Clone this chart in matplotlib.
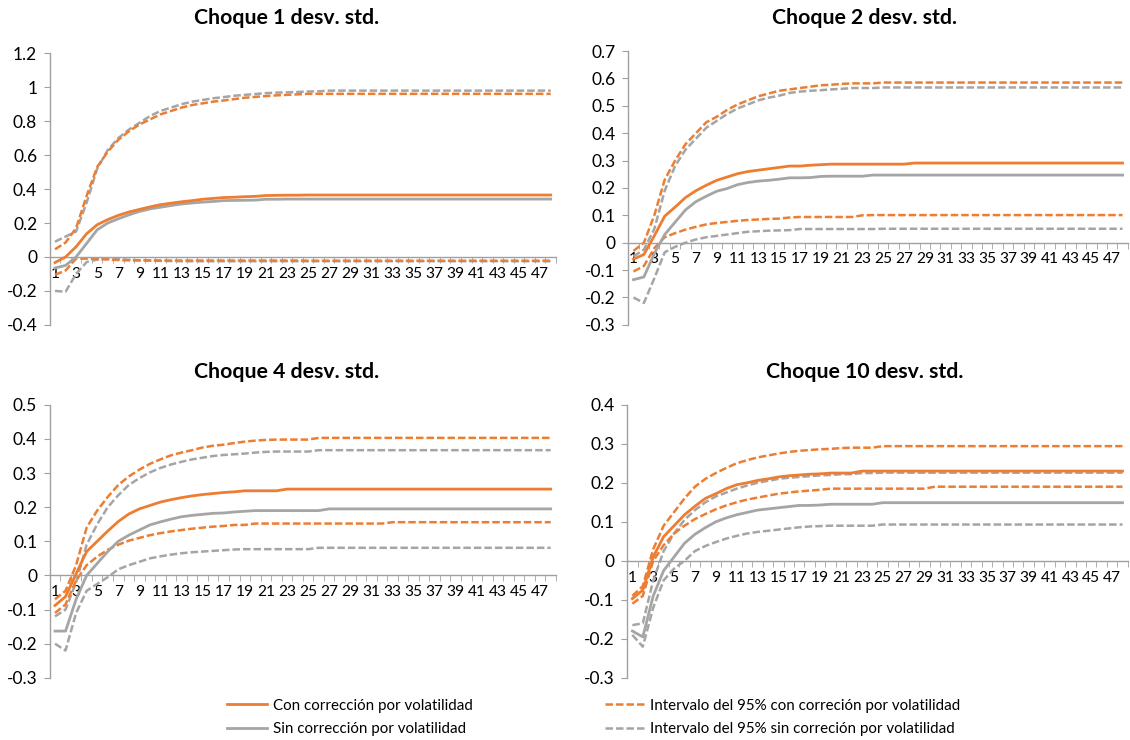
import matplotlib
matplotlib.use("Agg")
import matplotlib.pyplot as plt
from matplotlib.ticker import FuncFormatter, MultipleLocator
from matplotlib.lines import Line2D

plt.rcParams["font.family"] = ["Lato", "DejaVu Sans"]

ORANGE = "#ED7D31"
GRAY = "#A5A5A5"
AXIS = "#A0A0A0"

periods = list(range(1, 49))
titles = ["Choque 1 desv. std.", "Choque 2 desv. std.",
          "Choque 4 desv. std.", "Choque 10 desv. std."]
labels = ["Con corrección por volatilidad",
          "Sin corrección por volatilidad",
          "Intervalo del 95% con correción por volatilidad",
          "Intervalo del 95% sin correción por volatilidad"]

# ---- Choque 1 ----
con_1 = [-0.033, 0.000, 0.060, 0.137, 0.190, 0.220, 0.245, 0.265, 0.280, 0.295, 0.308, 0.317,
         0.325, 0.332, 0.340, 0.345, 0.350, 0.352, 0.355, 0.357, 0.362, 0.363, 0.364, 0.364,
         0.365, 0.365, 0.365, 0.365, 0.365, 0.365, 0.365, 0.365, 0.365, 0.365, 0.365, 0.365,
         0.365, 0.365, 0.365, 0.365, 0.365, 0.365, 0.365, 0.365, 0.365, 0.365, 0.365, 0.365]
sin_1 = [-0.065, -0.050, 0.000, 0.080, 0.160, 0.200, 0.225, 0.248, 0.268, 0.283, 0.293, 0.303,
         0.312, 0.318, 0.323, 0.327, 0.332, 0.333, 0.334, 0.335, 0.340, 0.340, 0.341, 0.341,
         0.341, 0.341, 0.341, 0.341, 0.341, 0.341, 0.341, 0.341, 0.341, 0.341, 0.341, 0.341,
         0.341, 0.341, 0.341, 0.341, 0.341, 0.341, 0.341, 0.341, 0.341, 0.341, 0.341, 0.341]
hi_con_1 = [0.045, 0.085, 0.170, 0.360, 0.530, 0.620, 0.690, 0.740, 0.780, 0.810, 0.840, 0.860,
            0.880, 0.895, 0.905, 0.915, 0.922, 0.930, 0.938, 0.943, 0.948, 0.952, 0.955, 0.958,
            0.961, 0.961, 0.961, 0.961, 0.961, 0.961, 0.961, 0.961, 0.961, 0.961, 0.961, 0.961,
            0.961, 0.961, 0.961, 0.961, 0.961, 0.961, 0.961, 0.961, 0.961, 0.961, 0.961, 0.961]
lo_con_1 = [-0.105, -0.080, -0.010, -0.010, -0.012, -0.015, -0.018, -0.020, -0.020, -0.020, -0.021, -0.021,
            -0.021, -0.021, -0.021, -0.021, -0.021, -0.021, -0.021, -0.021, -0.021, -0.021, -0.021, -0.021,
            -0.022, -0.022, -0.022, -0.022, -0.022, -0.022, -0.022, -0.022, -0.022, -0.022, -0.022, -0.022,
            -0.022, -0.022, -0.022, -0.022, -0.022, -0.022, -0.022, -0.022, -0.022, -0.022, -0.022, -0.022]
hi_sin_1 = [0.090, 0.120, 0.150, 0.320, 0.520, 0.630, 0.700, 0.750, 0.790, 0.830, 0.860, 0.880,
            0.900, 0.915, 0.925, 0.935, 0.942, 0.950, 0.955, 0.960, 0.965, 0.968, 0.970, 0.972,
            0.975, 0.976, 0.980, 0.980, 0.980, 0.980, 0.980, 0.980, 0.980, 0.980, 0.980, 0.980,
            0.980, 0.980, 0.980, 0.980, 0.980, 0.980, 0.980, 0.980, 0.980, 0.980, 0.980, 0.980]
lo_sin_1 = [-0.200, -0.205, -0.100, -0.030, -0.015, -0.010, -0.013, -0.017, -0.020, -0.022, -0.023, -0.024,
            -0.025, -0.025, -0.025, -0.025, -0.025, -0.025, -0.025, -0.025, -0.025, -0.025, -0.025, -0.025,
            -0.025, -0.025, -0.025, -0.025, -0.025, -0.025, -0.025, -0.025, -0.025, -0.025, -0.025, -0.025,
            -0.025, -0.025, -0.025, -0.025, -0.025, -0.025, -0.025, -0.025, -0.025, -0.025, -0.025, -0.025]

# ---- Choque 2 ----
con_2 = [-0.060, -0.043, 0.025, 0.097, 0.130, 0.165, 0.190, 0.210, 0.228, 0.240, 0.252, 0.260,
         0.265, 0.270, 0.275, 0.280, 0.280, 0.283, 0.285, 0.287, 0.287, 0.287, 0.287, 0.287,
         0.287, 0.287, 0.287, 0.291, 0.291, 0.291, 0.291, 0.291, 0.291, 0.291, 0.291, 0.291,
         0.291, 0.291, 0.291, 0.291, 0.291, 0.291, 0.291, 0.291, 0.291, 0.291, 0.291, 0.291]
sin_2 = [-0.135, -0.125, -0.040, 0.030, 0.075, 0.120, 0.150, 0.170, 0.188, 0.198, 0.212, 0.220,
         0.225, 0.228, 0.232, 0.237, 0.237, 0.238, 0.242, 0.243, 0.243, 0.243, 0.243, 0.247,
         0.247, 0.247, 0.247, 0.247, 0.247, 0.247, 0.247, 0.247, 0.247, 0.247, 0.247, 0.247,
         0.247, 0.247, 0.247, 0.247, 0.247, 0.247, 0.247, 0.247, 0.247, 0.247, 0.247, 0.247]
hi_con_2 = [-0.030, 0.000, 0.100, 0.230, 0.300, 0.360, 0.400, 0.440, 0.460, 0.485, 0.505, 0.520,
            0.535, 0.545, 0.555, 0.560, 0.565, 0.570, 0.575, 0.577, 0.580, 0.582, 0.582, 0.582,
            0.585, 0.585, 0.585, 0.585, 0.585, 0.585, 0.585, 0.585, 0.585, 0.585, 0.585, 0.585,
            0.585, 0.585, 0.585, 0.585, 0.585, 0.585, 0.585, 0.585, 0.585, 0.585, 0.585, 0.585]
lo_con_2 = [-0.105, -0.085, -0.020, 0.020, 0.035, 0.048, 0.058, 0.067, 0.072, 0.076, 0.080, 0.083,
            0.085, 0.087, 0.088, 0.092, 0.094, 0.094, 0.094, 0.094, 0.094, 0.094, 0.100, 0.101,
            0.101, 0.101, 0.101, 0.101, 0.101, 0.101, 0.101, 0.101, 0.101, 0.101, 0.101, 0.101,
            0.101, 0.101, 0.101, 0.101, 0.101, 0.101, 0.101, 0.101, 0.101, 0.101, 0.101, 0.101]
hi_sin_2 = [-0.050, -0.025, 0.050, 0.190, 0.280, 0.340, 0.380, 0.420, 0.445, 0.470, 0.490, 0.505,
            0.520, 0.530, 0.537, 0.547, 0.552, 0.555, 0.557, 0.560, 0.562, 0.565, 0.565, 0.565,
            0.567, 0.567, 0.567, 0.567, 0.567, 0.567, 0.567, 0.567, 0.567, 0.567, 0.567, 0.567,
            0.567, 0.567, 0.567, 0.567, 0.567, 0.567, 0.567, 0.567, 0.567, 0.567, 0.567, 0.567]
lo_sin_2 = [-0.200, -0.220, -0.130, -0.035, -0.015, 0.000, 0.012, 0.020, 0.025, 0.030, 0.035, 0.040,
            0.042, 0.044, 0.045, 0.046, 0.050, 0.050, 0.050, 0.050, 0.050, 0.050, 0.050, 0.050,
            0.051, 0.051, 0.051, 0.051, 0.051, 0.051, 0.051, 0.051, 0.051, 0.051, 0.051, 0.051,
            0.051, 0.051, 0.051, 0.051, 0.051, 0.051, 0.051, 0.051, 0.051, 0.051, 0.051, 0.051]

# ---- Choque 4 ----
con_4 = [-0.088, -0.062, 0.005, 0.070, 0.100, 0.130, 0.158, 0.180, 0.195, 0.205, 0.215, 0.222,
         0.228, 0.233, 0.237, 0.240, 0.243, 0.245, 0.248, 0.248, 0.248, 0.248, 0.253, 0.253,
         0.253, 0.253, 0.253, 0.253, 0.253, 0.253, 0.253, 0.253, 0.253, 0.253, 0.253, 0.253,
         0.253, 0.253, 0.253, 0.253, 0.253, 0.253, 0.253, 0.253, 0.253, 0.253, 0.253, 0.253]
sin_4 = [-0.163, -0.163, -0.070, 0.000, 0.035, 0.070, 0.100, 0.118, 0.133, 0.148, 0.157, 0.165,
         0.172, 0.176, 0.179, 0.182, 0.183, 0.186, 0.188, 0.190, 0.190, 0.190, 0.190, 0.190,
         0.190, 0.190, 0.195, 0.195, 0.195, 0.195, 0.195, 0.195, 0.195, 0.195, 0.195, 0.195,
         0.195, 0.195, 0.195, 0.195, 0.195, 0.195, 0.195, 0.195, 0.195, 0.195, 0.195, 0.195]
hi_con_4 = [-0.070, -0.045, 0.030, 0.140, 0.190, 0.230, 0.265, 0.290, 0.310, 0.327, 0.340, 0.352,
            0.360, 0.367, 0.375, 0.380, 0.383, 0.388, 0.392, 0.395, 0.397, 0.398, 0.398, 0.398,
            0.398, 0.403, 0.403, 0.403, 0.403, 0.403, 0.403, 0.403, 0.403, 0.403, 0.403, 0.403,
            0.403, 0.403, 0.403, 0.403, 0.403, 0.403, 0.403, 0.403, 0.403, 0.403, 0.403, 0.403]
lo_con_4 = [-0.110, -0.085, -0.015, 0.030, 0.055, 0.075, 0.090, 0.102, 0.110, 0.118, 0.124, 0.129,
            0.133, 0.137, 0.140, 0.143, 0.145, 0.148, 0.148, 0.152, 0.152, 0.152, 0.152, 0.152,
            0.152, 0.152, 0.152, 0.152, 0.152, 0.152, 0.152, 0.152, 0.156, 0.156, 0.156, 0.156,
            0.156, 0.156, 0.156, 0.156, 0.156, 0.156, 0.156, 0.156, 0.156, 0.156, 0.156, 0.156]
hi_sin_4 = [-0.120, -0.100, -0.020, 0.090, 0.150, 0.200, 0.235, 0.265, 0.285, 0.302, 0.315, 0.325,
            0.333, 0.340, 0.345, 0.350, 0.353, 0.355, 0.357, 0.360, 0.362, 0.363, 0.363, 0.363,
            0.363, 0.367, 0.367, 0.367, 0.367, 0.367, 0.367, 0.367, 0.367, 0.367, 0.367, 0.367,
            0.367, 0.367, 0.367, 0.367, 0.367, 0.367, 0.367, 0.367, 0.367, 0.367, 0.367, 0.367]
lo_sin_4 = [-0.200, -0.220, -0.110, -0.045, -0.025, -0.005, 0.018, 0.030, 0.040, 0.050, 0.056, 0.061,
            0.065, 0.068, 0.070, 0.072, 0.074, 0.076, 0.077, 0.077, 0.077, 0.077, 0.077, 0.077,
            0.077, 0.081, 0.081, 0.081, 0.081, 0.081, 0.081, 0.081, 0.081, 0.081, 0.081, 0.081,
            0.081, 0.081, 0.081, 0.081, 0.081, 0.081, 0.081, 0.081, 0.081, 0.081, 0.081, 0.081]

# ---- Choque 10 ----
con_10 = [-0.097, -0.075, 0.010, 0.062, 0.090, 0.118, 0.140, 0.160, 0.172, 0.185, 0.195, 0.200,
          0.206, 0.210, 0.215, 0.218, 0.220, 0.222, 0.223, 0.225, 0.225, 0.225, 0.230, 0.230,
          0.230, 0.230, 0.230, 0.230, 0.230, 0.230, 0.230, 0.230, 0.230, 0.230, 0.230, 0.230,
          0.230, 0.230, 0.230, 0.230, 0.230, 0.230, 0.230, 0.230, 0.230, 0.230, 0.230, 0.230]
sin_10 = [-0.180, -0.195, -0.090, -0.025, 0.010, 0.045, 0.068, 0.085, 0.100, 0.110, 0.118, 0.124,
          0.130, 0.133, 0.136, 0.139, 0.142, 0.142, 0.143, 0.145, 0.145, 0.145, 0.145, 0.145,
          0.149, 0.149, 0.149, 0.149, 0.149, 0.149, 0.149, 0.149, 0.149, 0.149, 0.149, 0.149,
          0.149, 0.149, 0.149, 0.149, 0.149, 0.149, 0.149, 0.149, 0.149, 0.149, 0.149, 0.149]
hi_con_10 = [-0.090, -0.065, 0.030, 0.090, 0.125, 0.160, 0.190, 0.210, 0.225, 0.238, 0.250, 0.258,
             0.265, 0.270, 0.275, 0.279, 0.282, 0.284, 0.286, 0.287, 0.289, 0.290, 0.290, 0.290,
             0.294, 0.294, 0.294, 0.294, 0.294, 0.294, 0.294, 0.294, 0.294, 0.294, 0.294, 0.294,
             0.294, 0.294, 0.294, 0.294, 0.294, 0.294, 0.294, 0.294, 0.294, 0.294, 0.294, 0.294]
lo_con_10 = [-0.110, -0.090, 0.000, 0.040, 0.070, 0.090, 0.107, 0.120, 0.132, 0.142, 0.150, 0.157,
             0.162, 0.167, 0.172, 0.175, 0.178, 0.180, 0.182, 0.185, 0.185, 0.185, 0.185, 0.185,
             0.185, 0.185, 0.185, 0.185, 0.185, 0.190, 0.190, 0.190, 0.190, 0.190, 0.190, 0.190,
             0.190, 0.190, 0.190, 0.190, 0.190, 0.190, 0.190, 0.190, 0.190, 0.190, 0.190, 0.190]
hi_sin_10 = [-0.165, -0.160, -0.050, 0.025, 0.070, 0.105, 0.130, 0.150, 0.165, 0.175, 0.185, 0.193,
             0.200, 0.205, 0.210, 0.213, 0.215, 0.217, 0.219, 0.220, 0.222, 0.222, 0.225, 0.225,
             0.226, 0.226, 0.226, 0.226, 0.226, 0.226, 0.226, 0.226, 0.226, 0.226, 0.226, 0.226,
             0.226, 0.226, 0.226, 0.226, 0.226, 0.226, 0.226, 0.226, 0.226, 0.226, 0.226, 0.226]
lo_sin_10 = [-0.190, -0.220, -0.120, -0.050, -0.020, 0.000, 0.025, 0.038, 0.048, 0.057, 0.064, 0.070,
             0.074, 0.077, 0.080, 0.083, 0.086, 0.088, 0.089, 0.090, 0.090, 0.090, 0.090, 0.090,
             0.093, 0.093, 0.093, 0.093, 0.093, 0.093, 0.093, 0.093, 0.093, 0.093, 0.093, 0.093,
             0.093, 0.093, 0.093, 0.093, 0.093, 0.093, 0.093, 0.093, 0.093, 0.093, 0.093, 0.093]

y_limits = [(-0.4, 1.2, 0.2), (-0.3, 0.7, 0.1), (-0.3, 0.5, 0.1), (-0.3, 0.4, 0.1)]

DASH = (0, (3, 1.2))


def fmt(v, pos):
    v = round(v, 2) + 0.0
    return f"{v:g}"


def draw_panel(ax, title, series, ylim, title_x, title_y, fig):
    con, sin, hi_con, lo_con, hi_sin, lo_sin = series
    ax.plot(periods, hi_sin, color=GRAY, lw=1.8, ls=DASH, zorder=2)
    ax.plot(periods, lo_sin, color=GRAY, lw=1.8, ls=DASH, zorder=2)
    ax.plot(periods, hi_con, color=ORANGE, lw=1.8, ls=DASH, zorder=2)
    ax.plot(periods, lo_con, color=ORANGE, lw=1.8, ls=DASH, zorder=2)
    ax.plot(periods, sin, color=GRAY, lw=2.0, zorder=3)
    ax.plot(periods, con, color=ORANGE, lw=2.0, zorder=3)

    lo, hi, step = ylim
    ax.set_ylim(lo, hi)
    ax.yaxis.set_major_locator(MultipleLocator(step))
    ax.yaxis.set_major_formatter(FuncFormatter(fmt))
    ax.set_xlim(0.5, 48.5)
    ax.set_xticks(periods[::2])
    ax.set_xticklabels([str(p) for p in periods[::2]])
    ax.set_xticks([p + 0.5 for p in range(0, 49)], minor=True)

    ax.spines["top"].set_visible(False)
    ax.spines["right"].set_visible(False)
    ax.spines["bottom"].set_position(("data", 0))
    for s in ("left", "bottom"):
        ax.spines[s].set_color(AXIS)
        ax.spines[s].set_linewidth(1.0)
    ax.tick_params(axis="x", which="major", length=0, pad=7, labelsize=11.2)
    ax.tick_params(axis="x", which="minor", length=4, color=AXIS, direction="out")
    ax.tick_params(axis="y", length=4, color=AXIS, labelsize=12.5, pad=5)
    fig.text(title_x, title_y, title, ha="center", va="center",
             fontsize=15.3, fontweight="bold")


fig = plt.figure(figsize=(11.3, 7.4), dpi=100)
fig.set_facecolor("white")

boxes = [
    [0.044, 0.561, 0.448, 0.367],
    [0.556, 0.561, 0.442, 0.370],
    [0.044, 0.084, 0.448, 0.369],
    [0.555, 0.084, 0.443, 0.369],
]
title_pos = [(0.254, 0.975), (0.765, 0.975), (0.254, 0.497), (0.765, 0.497)]
all_series = [
    (con_1, sin_1, hi_con_1, lo_con_1, hi_sin_1, lo_sin_1),
    (con_2, sin_2, hi_con_2, lo_con_2, hi_sin_2, lo_sin_2),
    (con_4, sin_4, hi_con_4, lo_con_4, hi_sin_4, lo_sin_4),
    (con_10, sin_10, hi_con_10, lo_con_10, hi_sin_10, lo_sin_10),
]

for i in range(4):
    for s in all_series[i]:
        assert len(s) == len(periods)
    ax = fig.add_axes(boxes[i])
    draw_panel(ax, titles[i], all_series[i], y_limits[i],
               title_pos[i][0], title_pos[i][1], fig)

h_con = Line2D([], [], color=ORANGE, lw=2.0)
h_sin = Line2D([], [], color=GRAY, lw=2.0)
h_icon = Line2D([], [], color=ORANGE, lw=1.8, ls=DASH)
h_isin = Line2D([], [], color=GRAY, lw=1.8, ls=DASH)

leg_kw = dict(frameon=False, fontsize=10.9, handlelength=2.65, handletextpad=0.35,
              borderpad=0, borderaxespad=0, labelspacing=0.65, loc="upper left")
fig.legend([h_con, h_sin], labels[:2], bbox_to_anchor=(0.201, 0.056), **leg_kw)
fig.legend([h_icon, h_isin], labels[2:], bbox_to_anchor=(0.535, 0.056), **leg_kw)

fig.savefig("out.png", dpi=100, facecolor="white")
